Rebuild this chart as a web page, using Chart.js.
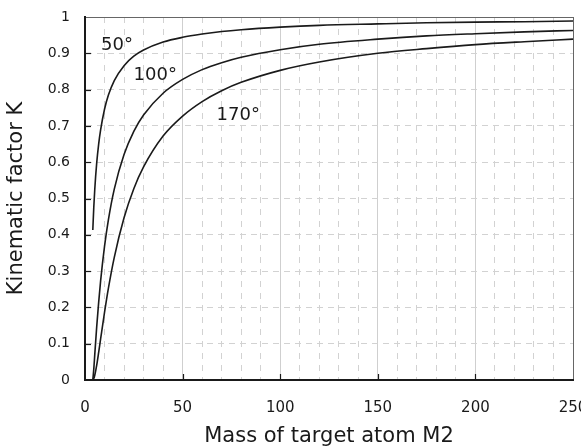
<!DOCTYPE html>
<html>
<head>
<meta charset="utf-8">
<script src="https://cdn.jsdelivr.net/npm/chart.js@4/dist/chart.umd.min.js"></script>
<style>
  html, body { margin: 0; padding: 0; background: #fff; }
  #wrap { width: 581px; height: 447px; }
</style>
</head>
<body>
<div id="wrap"><canvas id="c"></canvas></div>
<script>
// Mass of target atom M2 (x values)
const massM2 = [4, 4.5, 5, 6, 7, 8, 10, 12, 15, 20, 25, 30, 40, 50, 60, 70, 80, 100, 120, 150, 175, 200, 225, 250];

// Kinematic factor K
const k50 = [0.413, 0.476, 0.525, 0.598, 0.650, 0.689, 0.746, 0.785, 0.825, 0.866, 0.892, 0.909, 0.931, 0.944, 0.953, 0.960, 0.965, 0.972, 0.977, 0.981, 0.984, 0.986, 0.987, 0.989];
const k100 = [0.0, 0.030, 0.070, 0.147, 0.214, 0.273, 0.368, 0.442, 0.526, 0.621, 0.685, 0.730, 0.790, 0.828, 0.855, 0.874, 0.889, 0.910, 0.925, 0.939, 0.948, 0.954, 0.959, 0.963];
const k170 = [0.0, 0.004, 0.013, 0.041, 0.076, 0.113, 0.186, 0.253, 0.338, 0.447, 0.527, 0.587, 0.672, 0.727, 0.767, 0.797, 0.820, 0.853, 0.876, 0.900, 0.913, 0.924, 0.932, 0.939];

const curveLabels = ["50°", "100°", "170°"];
const labelX = [16.4, 36, 78.5];
const labelY = [0.923, 0.84, 0.73];

const FONT = "'DejaVu Sans', 'Liberation Sans', sans-serif";
const INK = "#1a1a1a";

function toPoints(ys) {
  return massM2.map((m, i) => ({ x: m, y: ys[i] }));
}

function lineSet(label, ys) {
  return {
    label: label,
    data: toPoints(ys),
    borderColor: INK,
    borderWidth: 1.6,
    pointRadius: 0,
    fill: false,
    tension: 0.4,
    cubicInterpolationMode: "monotone",
  };
}

// inward tick marks + curve angle labels
const decorPlugin = {
  id: "decor",
  afterDraw(chart) {
    const { ctx, chartArea, scales } = chart;
    ctx.save();
    ctx.strokeStyle = INK;
    ctx.lineWidth = 1.2;
    [50, 100, 150, 200].forEach((v) => {
      const px = Math.round(scales.x.getPixelForValue(v)) + 0.5;
      ctx.beginPath();
      ctx.moveTo(px, chartArea.bottom);
      ctx.lineTo(px, chartArea.bottom - 6);
      ctx.stroke();
    });
    for (let i = 1; i < 10; i++) {
      const py = Math.round(scales.y.getPixelForValue(i / 10)) + 0.5;
      ctx.beginPath();
      ctx.moveTo(chartArea.left, py);
      ctx.lineTo(chartArea.left + 6, py);
      ctx.stroke();
    }
    ctx.fillStyle = INK;
    ctx.font = "18px " + FONT;
    ctx.textAlign = "center";
    ctx.textBaseline = "middle";
    curveLabels.forEach((t, i) => {
      ctx.fillText(t, scales.x.getPixelForValue(labelX[i]), scales.y.getPixelForValue(labelY[i]));
    });
    ctx.restore();
  },
};

new Chart(document.getElementById("c"), {
  type: "line",
  data: {
    datasets: [lineSet("50°", k50), lineSet("100°", k100), lineSet("170°", k170)],
  },
  options: {
    responsive: true,
    maintainAspectRatio: false,
    animation: false,
    layout: { padding: { top: 17, right: 8, left: 0, bottom: 0 } },
    plugins: {
      legend: { display: false },
      tooltip: { enabled: false },
    },
    scales: {
      x: {
        type: "linear",
        min: 0,
        max: 250,
        afterFit: (s) => {
          s.height = 67;
          s.paddingLeft = 0;
          s.paddingRight = 0;
        },
        ticks: {
          stepSize: 10,
          autoSkip: false,
          maxRotation: 0,
          padding: 19,
          color: INK,
          font: { family: FONT, size: 15 },
          callback: (v) => (v % 50 === 0 ? String(v) : ""),
        },
        grid: {
          drawTicks: false,
          lineWidth: 1,
          color: (c) => {
            const v = c.tick ? c.tick.value : 0;
            if (v === 250) return "#666";
            return v % 50 === 0 ? "#cfcfcf" : "#d2d2d2";
          },
        },
        border: {
          color: INK,
          width: 2,
          dash: (c) => {
            const v = c.tick ? c.tick.value : 0;
            return v % 50 === 0 ? [] : [6, 6];
          },
        },
        title: {
          display: true,
          text: "Mass of target atom M2",
          color: INK,
          font: { family: FONT, size: 21 },
          padding: { top: 0, bottom: -2 },
        },
      },
      y: {
        type: "linear",
        min: 0,
        max: 1,
        afterFit: (s) => {
          s.width = 85;
          s.paddingTop = 0;
          s.paddingBottom = 0;
        },
        ticks: {
          stepSize: 0.1,
          padding: 15,
          color: INK,
          font: { family: FONT, size: 14 },
          callback: (v) => {
            const r = Math.round(v * 10) / 10;
            return String(r);
          },
        },
        grid: {
          drawTicks: false,
          lineWidth: 1,
          color: (c) => {
            const v = c.tick ? Math.round(c.tick.value * 10) : 0;
            return v === 10 ? "#666" : "#d2d2d2";
          },
        },
        border: {
          color: INK,
          width: 2,
          dash: (c) => {
            const v = c.tick ? Math.round(c.tick.value * 10) : 0;
            return v === 10 ? [] : [6, 5];
          },
        },
        title: {
          display: true,
          text: "Kinematic factor K",
          color: INK,
          font: { family: FONT, size: 21 },
          padding: { top: 4, bottom: 0 },
        },
      },
    },
  },
  plugins: [decorPlugin],
});
</script>
</body>
</html>
